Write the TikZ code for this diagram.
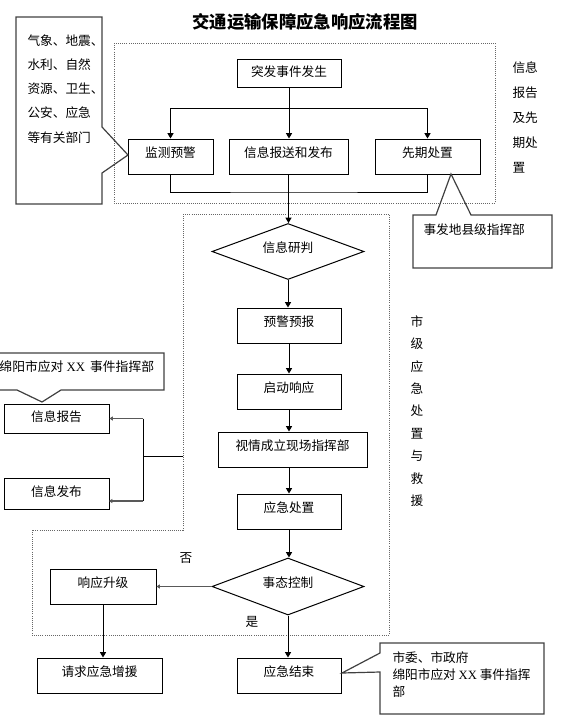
\documentclass[tikz,border=0pt]{standalone}
\usepackage{fontspec}
\newfontfamily\cn{Noto Sans CJK SC}
\newfontfamily\lat{Liberation Serif}
\usetikzlibrary{arrows.meta, shapes.geometric}

\tikzset{
  box/.style={draw, rectangle, inner sep=0pt, minimum height=26.25pt, text depth=6pt,
    font=\cn\fontsize{9.5pt}{11pt}\selectfont},
  decide/.style={draw, diamond, aspect=2.7, inner sep=0pt, minimum width=114pt,
    text depth=6pt, font=\cn\fontsize{9.5pt}{11pt}\selectfont},
  lbl/.style={inner sep=0pt, font=\cn\fontsize{9.5pt}{11pt}\selectfont},
  arr/.style={-{Triangle[length=4pt,width=4.5pt]}},
  sarr/.style={-{Triangle[length=2.5pt,width=3pt]}, draw=black!65, line width=1pt},
  zone/.style={densely dotted, draw=black!60, line width=0.6pt},
  callout/.style={draw=black!75, line width=0.9pt}
}

\begin{document}
\begin{tikzpicture}[x=0.75pt, y=-0.75pt, line width=0.75pt]
\useasboundingbox (0,0) rectangle (568,728);

\node[lbl, font=\cn\bfseries\fontsize{13pt}{15pt}\selectfont] (title) at (305,22) {交通运输保障应急响应流程图};

\draw[zone] (114,43) rectangle (495,203);
\draw[zone] (183,214) -- (389,214) -- (389,635) -- (32,635) -- (32,530) -- (183,530) -- cycle;

\node[box, minimum width=78pt, minimum height=21pt, text depth=3pt] (fasheng) at (289,73) {突发事件发生};
\node[box, minimum width=63.75pt] (jiance) at (170.5,156.5) {监测预警};
\node[box, minimum width=89.25pt] (baosong) at (288.5,156.5) {信息报送和发布};
\node[box, minimum width=78.75pt] (xianqi) at (427.5,156.5) {先期处置};
\node[decide, minimum height=42pt] (yanpan) at (288,251.5) {信息研判};
\node[box, minimum width=78pt] (yujing) at (289,325.5) {预警预报};
\node[box, minimum width=78pt] (qidong) at (289,391.5) {启动响应};
\node[box, minimum width=111.75pt] (xianchang) at (292.5,449.5) {视情成立现场指挥部};
\node[box, minimum width=78pt] (chuzhi) at (289,511.5) {应急处置};
\node[decide, minimum height=42.75pt] (kongzhi) at (288,586.5) {事态控制};
\node[box, minimum width=78pt] (jieshu) at (289,675.5) {应急结束};
\node[box, minimum width=79.5pt] (shengji) at (103,586.5) {响应升级};
\node[box, minimum width=93.75pt] (zengyuan) at (99.5,675.5) {请求应急增援};
\node[box, minimum width=78.75pt, minimum height=21.75pt, text depth=3pt] (baogao) at (56.5,418.5) {信息报告};
\node[box, minimum width=78.75pt, minimum height=23.25pt, text depth=3pt] (fabu) at (56.5,493.5) {信息发布};

\coordinate (split) at (289,108);
\coordinate (join) at (289,192);
\coordinate (fork) at (143,456);
\coordinate (edge) at (183,456);
\coordinate (fabuin) at (109,501);

\draw[arr] (fasheng.south) -- (fasheng.south |- baosong.north);
\draw[arr] (split) -| (jiance.north);
\draw[arr] (split) -| (xianqi.north);
\draw (jiance.south) |- (join) -| (xianqi.south);
\draw[arr] (baosong.south) -- (baosong.south |- yanpan.north);
\draw[arr] (yanpan.south) -- (yanpan.south |- yujing.north);
\draw[arr] (yujing.south) -- (qidong.north);
\draw[arr] (qidong.south) -- (qidong.south |- xianchang.north);
\draw[arr] (xianchang.south -| chuzhi) -- (chuzhi.north);
\draw[arr] (chuzhi.south) -- (chuzhi.south |- kongzhi.north);
\draw[arr] (kongzhi.south) -- (kongzhi.south |- jieshu.north);
\draw[sarr] (kongzhi.west) -- (shengji.east);
\draw[arr] (shengji.south) -- (shengji.south |- zengyuan.north);
\draw (edge) -- (fork);
\draw (fork |- baogao.east) -- (fork |- fabuin);
\draw[sarr] (fork |- baogao.east) -- (baogao.east);
\draw[sarr] (fork |- fabuin) -- (fabuin);

\node[lbl] (fou) at (186,558) {否};
\node[lbl] (shi) at (252,622) {是};

\draw[callout] (16,17) -- (102,17) -- (102,127) -- (128,155) -- (102,173) -- (102,204) -- (16,204) -- cycle;
\node[lbl, anchor=north west, align=left, font=\cn\fontsize{9.5pt}{18.2pt}\selectfont] (bumen) at (27,34)
  {气象、地震、\\水利、自然\\资源、卫生、\\公安、应急\\等有关部门};

\draw[callout] (413,215) -- (436,215) -- (451,174) -- (471,215) -- (552,215) -- (552,268) -- (413,268) -- cycle;
\node[lbl, anchor=west] (xianji) at (423,230) {事发地县级指挥部};

\draw[callout] (-5,353) -- (164,353) -- (164,390) -- (61,390) -- (42,402) -- (17,390) -- (-5,390) -- cycle;
\node[lbl, anchor=west, font=\cn\fontsize{9.6pt}{11pt}\selectfont] (zhihui) at (-1,367)
  {绵阳市应对\hspace{2.3pt}{\lat XX}\hspace{3.8pt}事件指挥部};

\draw[callout] (380,643) -- (544,643) -- (544,714) -- (380,714) -- (380,672) -- (342,673) -- (380,653) -- cycle;
\node[lbl, anchor=north west, align=left, font=\cn\fontsize{9.5pt}{12.75pt}\selectfont] (shiwei) at (392,651)
  {市委、市政府\\绵阳市应对 {\lat XX} 事件指挥\\部};

\node[lbl, anchor=north west, align=left, font=\cn\fontsize{9.5pt}{18.75pt}\selectfont] (stage1) at (512,61)
  {信息\\报告\\及先\\期处\\置};
\node[lbl, anchor=north, align=center, font=\cn\fontsize{9.5pt}{16.8pt}\selectfont] (stage2) at (417,315)
  {市\\级\\应\\急\\处\\置\\与\\救\\援};
\end{tikzpicture}
\end{document}
